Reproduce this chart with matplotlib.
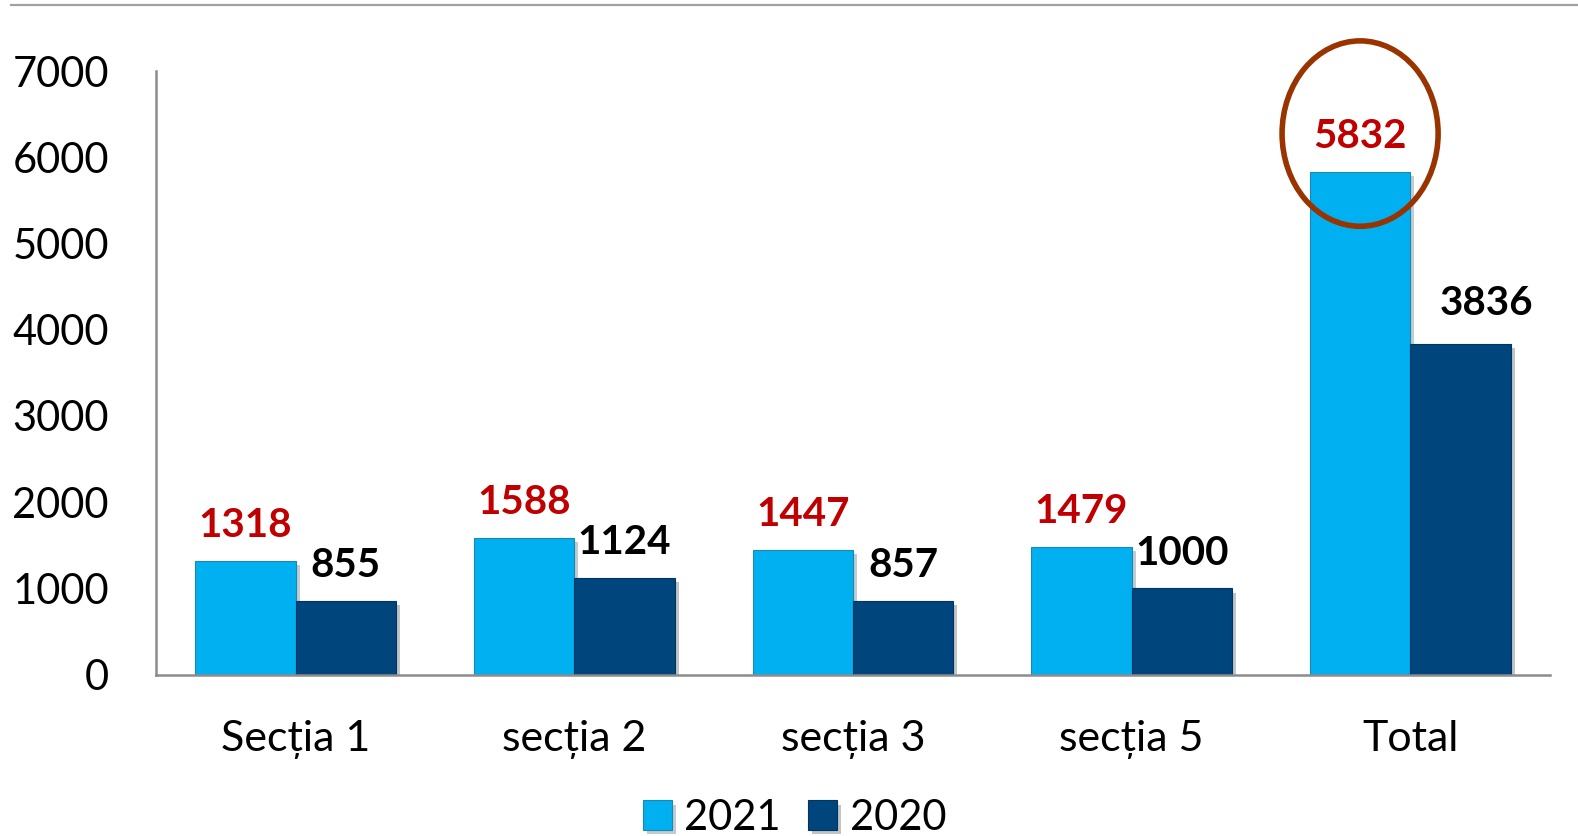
import matplotlib
matplotlib.use("Agg")
import matplotlib.pyplot as plt
import matplotlib.patheffects as pe
from matplotlib.patches import Ellipse
from matplotlib.lines import Line2D
import numpy as np

plt.rcParams['font.family'] = ['Lato', 'DejaVu Sans']

categories = ["Secția 1", "secția 2", "secția 3", "secția 5", "Total"]
v2021 = [1318, 1588, 1447, 1479, 5832]
v2020 = [855, 1124, 857, 1000, 3836]
yticks = [0, 1000, 2000, 3000, 4000, 5000, 6000, 7000]

c2021 = "#00B0F0"
c2020 = "#00457C"

fig = plt.figure(figsize=(15.78, 8.36), dpi=100)
ax = fig.add_axes([0.099, 0.193, 0.883, 0.722])

x = np.arange(len(categories))
w = 0.36
shadow = [pe.SimplePatchShadow(offset=(3, -3), alpha=0.25), pe.Normal()]
ax.bar(x - w / 2, v2021, w, color=c2021, edgecolor="#1f86b0", linewidth=0.8,
       label="2021", path_effects=shadow, zorder=2)
ax.bar(x + w / 2, v2020, w, color=c2020, edgecolor="#003560", linewidth=0.8,
       label="2020", path_effects=shadow, zorder=2)

for xi, v in zip(x - w / 2, v2021):
    ax.annotate(str(v), (xi, v), xytext=(0, 12), textcoords="offset points",
                ha="center", va="bottom", fontsize=29, fontweight="bold", color="#C00000")
for i, (xi, v) in enumerate(zip(x + w / 2, v2020)):
    dx, dy = (19, 16) if i == len(v2020) - 1 else (0, 12)
    ax.annotate(str(v), (xi, v), xytext=(dx, dy), textcoords="offset points",
                ha="center", va="bottom", fontsize=29, fontweight="bold", color="black")

# highlight around the total for 2021
ax.add_patch(Ellipse((x[-1] - w / 2, 6275), 0.56, 2150, fill=False,
                     edgecolor="#993300", linewidth=4, zorder=3, clip_on=False))

ax.set_xlim(-0.5, len(categories) - 0.5)
ax.set_ylim(0, 7000)
ax.set_yticks(yticks)
ax.set_xticks(x)
ax.set_xticklabels(categories)
ax.tick_params(axis="y", length=0, labelsize=30, pad=34)
ax.tick_params(axis="x", length=0, labelsize=31, pad=33)
for s in ["top", "right"]:
    ax.spines[s].set_visible(False)
for s in ["left", "bottom"]:
    ax.spines[s].set_color("#8c8c8c")
    ax.spines[s].set_linewidth(1.8)

ax.legend(loc="upper center", bbox_to_anchor=(0.458, -0.164), ncol=2, frameon=False,
          fontsize=30, handlelength=0.7, handleheight=0.7, handletextpad=0.3,
          columnspacing=0.65, borderpad=0.1)

fig.add_artist(Line2D([0.007, 1.0], [0.994, 0.994], color="#a0a0a0", linewidth=1.6))

fig.savefig("out.png", dpi=100)
